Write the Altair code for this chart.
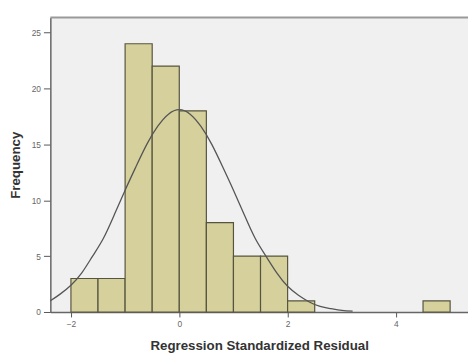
import altair as alt
import pandas as pd

# Histogram bins (standardized residual) and counts
bin_start = [-2.0, -1.5, -1.0, -0.5, 0.0, 0.5, 1.0, 1.5, 2.0, 4.5]
bin_end   = [-1.5, -1.0, -0.5, 0.0, 0.5, 1.0, 1.5, 2.0, 2.5, 5.0]
counts    = [3, 3, 24, 22, 18, 8, 5, 5, 1, 1]

# Normal curve points
curve_x = [-2.38, -2.2, -2.0, -1.8, -1.6, -1.4, -1.2, -1.0, -0.8, -0.6, -0.4, -0.2, 0.0,
           0.2, 0.4, 0.6, 0.8, 1.0, 1.2, 1.4, 1.6, 1.8, 2.0, 2.2, 2.4, 2.6, 2.8, 3.0, 3.2]
curve_y = [1.0, 1.6, 2.4, 3.5, 5.0, 6.6, 8.7, 10.9, 13.0, 15.0, 16.6, 17.7, 18.1,
           17.7, 16.6, 15.0, 13.0, 10.9, 8.7, 6.6, 5.0, 3.5, 2.3, 1.5, 0.9, 0.5, 0.3, 0.15, 0.08]

x_ticks = [-2, 0, 2, 4]
y_ticks = [0, 5, 10, 15, 20, 25]

bars = pd.DataFrame({"x0": bin_start, "x1": bin_end, "n": counts})
curve = pd.DataFrame({"x": curve_x, "y": curve_y})

xs = alt.Scale(domain=[-2.38, 5.33], nice=False, zero=False)
ys = alt.Scale(domain=[0, 26.35], nice=False)

FONT = "Liberation Sans"

x_axis = alt.Axis(values=x_ticks, format="d", title="Regression Standardized Residual", grid=False,
                  labelFontSize=8.5, labelColor="#666", tickColor="#555", tickSize=5,
                  domainColor="#666", domainWidth=1.5, titleFontSize=13.5, titleFontWeight="bold",
                  titleColor="#333", titlePadding=11, labelPadding=3)
y_axis = alt.Axis(values=y_ticks, format="d", title="Frequency", grid=False,
                  labelFontSize=8.5, labelColor="#666", tickColor="#555", tickSize=7,
                  domainColor="#666", domainWidth=1.5, titleFontSize=13.5, titleFontWeight="bold",
                  titleColor="#333", titlePadding=9, labelPadding=3)

hist = alt.Chart(bars).mark_rect(fill="#d6d19c", stroke="#55553f", strokeWidth=1.2).encode(
    x=alt.X("x0:Q", scale=xs, axis=x_axis),
    x2="x1:Q",
    y=alt.Y("n:Q", scale=ys, axis=y_axis),
    y2=alt.datum(0),
)

line = alt.Chart(curve).mark_line(color="#555555", strokeWidth=1.3, interpolate="natural").encode(
    x=alt.X("x:Q", scale=xs),
    y=alt.Y("y:Q", scale=ys),
)

top_border = alt.Chart(pd.DataFrame({"k": [0]})).mark_rule(color="#999999", strokeWidth=2).encode(
    x=alt.value(0), x2=alt.value(424), y=alt.value(0)
)

chart = alt.layer(hist, line, top_border).properties(
    width=424, height=299,
    autosize=alt.AutoSizeParams(type="none"),
    padding={"left": 43, "top": 7, "right": 0, "bottom": 40},
).configure(
    font=FONT, background="white",
    view=alt.ViewConfig(fill="#f0f0f0", stroke=None),
)

chart.save("out.html", embed_options={"renderer": "svg", "actions": False})
